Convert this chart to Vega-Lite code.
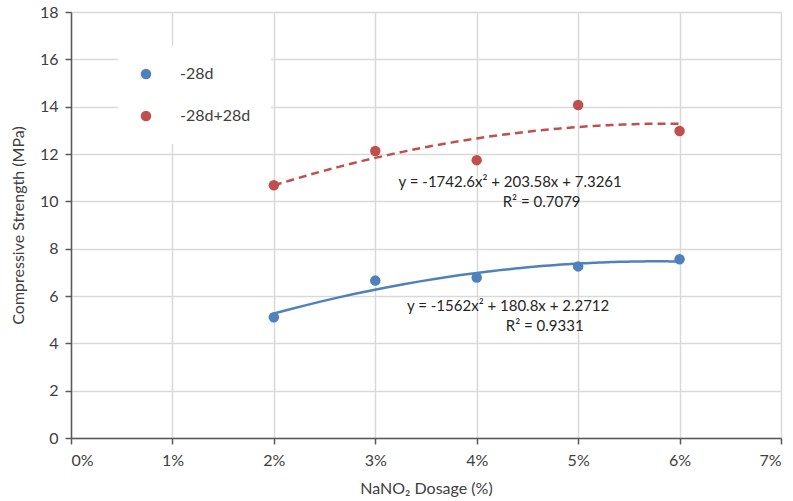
{
  "$schema": "https://vega.github.io/schema/vega-lite/v6.json",
  "width": 710,
  "height": 426,
  "autosize": "none",
  "padding": {"left": 71, "top": 12, "right": 12, "bottom": 63},
  "background": "white",
  "config": {
    "view": {"stroke": null},
    "font": "Lato",
    "axis": {
      "labelFont": "Lato",
      "titleFont": "Lato",
      "labelFontSize": 16,
      "titleFontSize": 16,
      "labelColor": "#404040",
      "titleColor": "#404040",
      "titleFontWeight": "normal",
      "domainColor": "#595959",
      "domainWidth": 1.5,
      "tickColor": "#595959",
      "tickWidth": 1.5,
      "tickSize": 6,
      "gridColor": "#d9d9d9",
      "gridWidth": 1.5
    },
    "legend": {"labelFont": "Lato", "labelFontSize": 16, "labelColor": "#404040"}
  },
  "datasets": {
    "pts": [
      {"dosage": 0.02, "strength": 5.1, "series": "-28d"},
      {"dosage": 0.03, "strength": 6.65, "series": "-28d"},
      {"dosage": 0.04, "strength": 6.78, "series": "-28d"},
      {"dosage": 0.05, "strength": 7.25, "series": "-28d"},
      {"dosage": 0.06, "strength": 7.55, "series": "-28d"},
      {"dosage": 0.02, "strength": 10.68, "series": "-28d+28d"},
      {"dosage": 0.03, "strength": 12.13, "series": "-28d+28d"},
      {"dosage": 0.04, "strength": 11.74, "series": "-28d+28d"},
      {"dosage": 0.05, "strength": 14.07, "series": "-28d+28d"},
      {"dosage": 0.06, "strength": 12.97, "series": "-28d+28d"}
    ],
    "notes": [
      {"dosage": 0.0433, "strength": 10.82, "label": "y = -1742.6x² + 203.58x + 7.3261"},
      {"dosage": 0.0464, "strength": 9.97, "label": "R² = 0.7079"},
      {"dosage": 0.0431, "strength": 5.58, "label": "y = -1562x² + 180.8x + 2.2712"},
      {"dosage": 0.0467, "strength": 4.73, "label": "R² = 0.9331"}
    ]
  },
  "layer": [
    {
      "data": {"name": "pts"},
      "transform": [
        {"filter": "datum.series === '-28d'"},
        {"regression": "strength", "on": "dosage", "method": "poly", "order": 2, "extent": [0.02, 0.06]}
      ],
      "mark": {"type": "line", "color": "#4F81BD", "strokeWidth": 2.5, "interpolate": "monotone"},
      "encoding": {
        "x": {"field": "dosage", "type": "quantitative"},
        "y": {"field": "strength", "type": "quantitative"}
      }
    },
    {
      "data": {"name": "pts"},
      "transform": [
        {"filter": "datum.series === '-28d+28d'"},
        {"regression": "strength", "on": "dosage", "method": "poly", "order": 2, "extent": [0.02, 0.06]}
      ],
      "mark": {"type": "line", "color": "#C0504D", "strokeWidth": 2.5, "strokeDash": [8, 5], "interpolate": "monotone"},
      "encoding": {
        "x": {"field": "dosage", "type": "quantitative"},
        "y": {"field": "strength", "type": "quantitative"}
      }
    },
    {
      "data": {"name": "pts"},
      "mark": {"type": "point", "filled": true, "opacity": 1, "size": 110},
      "encoding": {
        "x": {
          "field": "dosage",
          "type": "quantitative",
          "scale": {"domain": [0, 0.07], "nice": false},
          "axis": {
            "values": [0, 0.01, 0.02, 0.03, 0.04, 0.05, 0.06, 0.07],
            "format": ".0%",
            "title": "NaNO₂ Dosage (%)",
            "labelPadding": 8,
            "titlePadding": 12
          }
        },
        "y": {
          "field": "strength",
          "type": "quantitative",
          "scale": {"domain": [0, 18], "nice": false},
          "axis": {
            "values": [0, 2, 4, 6, 8, 10, 12, 14, 16, 18],
            "title": "Compressive Strength (MPa)",
            "labelPadding": 7,
            "titlePadding": 13
          }
        },
        "color": {
          "field": "series",
          "type": "nominal",
          "scale": {"domain": ["-28d", "-28d+28d"], "range": ["#4F81BD", "#C0504D"]},
          "legend": {
            "title": null,
            "orient": "none",
            "legendX": 47,
            "legendY": 34,
            "padding": 20,
            "fillColor": "white",
            "symbolType": "circle",
            "symbolSize": 110,
            "symbolOpacity": 1,
            "labelOffset": 26,
            "rowPadding": 26
          }
        }
      }
    },
    {
      "data": {"name": "notes"},
      "mark": {"type": "text", "fontSize": 15, "font": "Lato", "color": "#262626", "align": "center", "baseline": "middle"},
      "encoding": {
        "x": {"field": "dosage", "type": "quantitative"},
        "y": {"field": "strength", "type": "quantitative"},
        "text": {"field": "label"}
      }
    }
  ]
}
